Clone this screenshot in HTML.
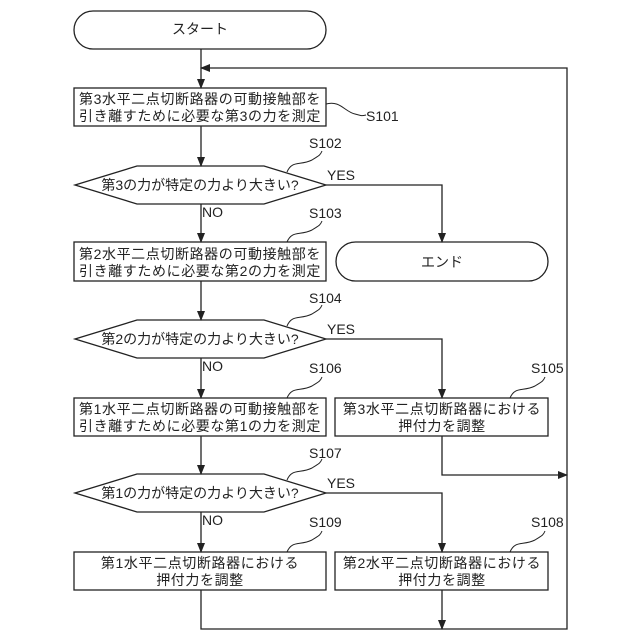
<!DOCTYPE html>
<html><head><meta charset="utf-8"><style>
html,body{margin:0;padding:0;background:#fff;}
svg{display:block;}
text{font-family:"Liberation Sans","Noto Sans CJK JP",sans-serif;fill:#222;}
.t{font-size:14px;text-anchor:middle;}
.b{font-size:14px;text-anchor:middle;letter-spacing:0.6px;}
.l{font-size:14px;}
</style></head><body>
<svg width="640" height="640" viewBox="0 0 640 640" xmlns="http://www.w3.org/2000/svg">
<defs><marker id="a" markerWidth="10" markerHeight="8" refX="9" refY="4" orient="auto" markerUnits="userSpaceOnUse"><path d="M0,0 L10,4 L0,8 z" fill="#222"/></marker></defs>
<g fill="none" stroke="#222" stroke-width="1.3">
<rect x="74" y="11" width="252" height="38" rx="19"/>
<rect x="336" y="242" width="212" height="39" rx="19.5"/>
<rect x="74" y="88" width="252" height="38"/>
<rect x="74" y="242" width="252" height="39"/>
<rect x="74" y="398" width="252" height="38"/>
<rect x="335" y="398" width="213" height="38"/>
<rect x="74" y="552" width="252" height="38"/>
<rect x="335" y="552" width="213" height="38"/>
<polygon points="75,185 137,166 264,166 326,185 264,204 137,204"/>
<polygon points="75,339 137,320 264,320 326,339 264,358 137,358"/>
<polygon points="75,493 137,474 264,474 326,493 264,512 137,512"/>
<line x1="201" y1="49" x2="201" y2="88" marker-end="url(#a)"/>
<line x1="201" y1="126" x2="201" y2="166" marker-end="url(#a)"/>
<line x1="201" y1="204" x2="201" y2="242" marker-end="url(#a)"/>
<line x1="201" y1="281" x2="201" y2="320" marker-end="url(#a)"/>
<line x1="201" y1="358" x2="201" y2="398" marker-end="url(#a)"/>
<line x1="201" y1="436" x2="201" y2="474" marker-end="url(#a)"/>
<line x1="201" y1="512" x2="201" y2="552" marker-end="url(#a)"/>
<polyline points="326,185 442,185 442,242" marker-end="url(#a)"/>
<polyline points="326,339 442,339 442,398" marker-end="url(#a)"/>
<polyline points="326,493 442,493 442,552" marker-end="url(#a)"/>
<polyline points="442,436 442,475 567,475" marker-end="url(#a)"/>
<polyline points="201,590 201,629 567,629 567,68 201,68" marker-end="url(#a)"/>
<line x1="442" y1="590" x2="442" y2="629" marker-end="url(#a)"/>
<path d="M326,104 C340,100 345,112 355,114 C362,116 362,116 366,115" stroke-width="1"/>
<path d="M287,172 C292,160 300,166 312,160 C318,156 320,156 322,151" stroke-width="1"/>
<path d="M287,242 C292,230 300,236 312,230 C318,226 320,226 322,221" stroke-width="1"/>
<path d="M287,326 C292,314 300,320 312,314 C318,310 320,310 322,305" stroke-width="1"/>
<path d="M287,398 C292,386 300,392 312,386 C318,382 320,382 322,377" stroke-width="1"/>
<path d="M287,480 C292,468 300,474 312,468 C318,464 320,464 322,459" stroke-width="1"/>
<path d="M287,552 C292,540 300,546 312,540 C318,536 320,536 322,531" stroke-width="1"/>
<path d="M510,398 C515,386 523,392 535,386 C541,382 543,382 545,377" stroke-width="1"/>
<path d="M510,552 C515,540 523,546 535,540 C541,536 543,536 545,531" stroke-width="1"/>
</g>
<text class="t" x="200" y="34">スタート</text>
<text class="t" x="442" y="267">エンド</text>
<text class="b" x="200" y="104">第3水平二点切断路器の可動接触部を</text>
<text class="b" x="200" y="121">引き離すために必要な第3の力を測定</text>
<text class="b" x="200" y="259">第2水平二点切断路器の可動接触部を</text>
<text class="b" x="200" y="276">引き離すために必要な第2の力を測定</text>
<text class="b" x="200" y="414">第1水平二点切断路器の可動接触部を</text>
<text class="b" x="200" y="431">引き離すために必要な第1の力を測定</text>
<text class="b" x="442" y="414">第3水平二点切断路器における</text>
<text class="b" x="442" y="431">押付力を調整</text>
<text class="b" x="200" y="568">第1水平二点切断路器における</text>
<text class="b" x="200" y="585">押付力を調整</text>
<text class="b" x="442" y="568">第2水平二点切断路器における</text>
<text class="b" x="442" y="585">押付力を調整</text>
<text class="t" x="200" y="190">第3の力が特定の力より大きい?</text>
<text class="t" x="200" y="344">第2の力が特定の力より大きい?</text>
<text class="t" x="200" y="498">第1の力が特定の力より大きい?</text>
<text class="l" x="327" y="180">YES</text>
<text class="l" x="327" y="334">YES</text>
<text class="l" x="327" y="488">YES</text>
<text class="l" x="202" y="217">NO</text>
<text class="l" x="202" y="371">NO</text>
<text class="l" x="202" y="525">NO</text>
<text class="l" x="366" y="121">S101</text>
<text class="l" x="309" y="148">S102</text>
<text class="l" x="309" y="218">S103</text>
<text class="l" x="309" y="303">S104</text>
<text class="l" x="309" y="373">S106</text>
<text class="l" x="309" y="458">S107</text>
<text class="l" x="309" y="527">S109</text>
<text class="l" x="531" y="373">S105</text>
<text class="l" x="531" y="527">S108</text>
</svg>
</body></html>
